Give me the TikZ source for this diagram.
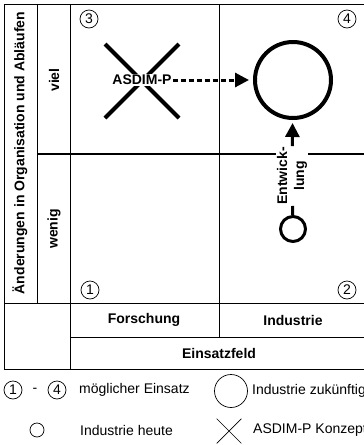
\documentclass[tikz,border=0pt]{standalone}
\usepackage{fontspec}
\setmainfont{Liberation Sans}
\usetikzlibrary{arrows.meta,shapes.misc}
\begin{document}
\begin{tikzpicture}
[
    x=1pt, y=-1pt,
    grid/.style={line width=0.8pt},
    axis/.style={font=\fontsize{14}{17}\selectfont\bfseries, rotate=90},
    head/.style={font=\fontsize{14}{17}\selectfont\bfseries},
    txt/.style={font=\fontsize{14}{17}\selectfont, anchor=west, inner sep=0pt},
    nr/.style={draw, circle, minimum size=18pt, inner sep=0pt, line width=0.7pt, font=\fontsize{14}{17}\selectfont},
    move/.style={line width=3pt, -{Triangle[length=14pt,width=14pt]}},
]
\useasboundingbox (0,0) rectangle (364,445);
\clip (0,0) rectangle (364,445);

\draw[grid] (4,4) -- (380,4);
\draw[grid] (4,4) -- (4,369) -- (380,369);
\draw[grid] (37,4) -- (37,303);
\draw[grid] (70,4) -- (70,369);
\draw[grid] (219,4) -- (219,337);
\draw[grid] (4,303) -- (380,303);
\draw[grid] (70,337) -- (380,337);
\draw[line width=2pt] (37,154) -- (380,154);

\node[axis] (change) at (20,153) {Änderungen in Organisation und Abläufen};
\node[axis] (much) at (54,80) {viel};
\node[axis] (little) at (54,229) {wenig};
\node[head] (research) at (144,320) {Forschung};
\node[head] (industry) at (293,320) {Industrie};
\node[head] (field) at (219,353) {Einsatzfeld};

\node[nr] (q3) at (89,19) {3};
\node[nr] (q4) at (347,19) {4};
\node[nr] (q1) at (90,290) {1};
\node[nr] (q2) at (347,290) {2};

\node[cross out, draw, line width=4pt, minimum size=70pt] (concept) at (142,81) {};
\node[head, fill=white, inner sep=1pt] (asdim) at (142,80) {ASDIM-P};
\node[circle, draw, line width=4pt, minimum size=76pt] (future) at (293,80) {};
\node[circle, draw, line width=3pt, minimum size=25pt] (today) at (293,229) {};
\node[head, rotate=90, fill=white, align=center, inner sep=1pt] (dev) at (292,176) {Entwick-\\lung};

\draw[move, dash pattern=on 5pt off 3pt, shorten >=4pt] (asdim) -- (future);
\draw[line width=3pt] (today) -- (dev);
\draw[move, shorten >=3pt] (dev) -- (future);

\node[nr] (n1) at (13,390) {1};
\node[font=\fontsize{14}{17}\selectfont] (to) at (35,390) {-};
\node[nr] (n4) at (57,390) {4};
\node[txt] (possible) at (79,390) {möglicher Einsatz};
\node[circle, draw, line width=0.7pt, minimum size=33pt] (bigkey) at (231,391) {};
\node[txt] (futurekey) at (252,391) {Industrie zukünftig};
\node[circle, draw, line width=0.7pt, minimum size=14pt] (smallkey) at (37,430) {};
\node[txt] (todaykey) at (80,430) {Industrie heute};
\node[cross out, draw, line width=0.7pt, minimum size=24pt] (crosskey) at (229,431) {};
\node[txt] (conceptkey) at (253,430) {ASDIM-P Konzept};
\end{tikzpicture}
\end{document}
